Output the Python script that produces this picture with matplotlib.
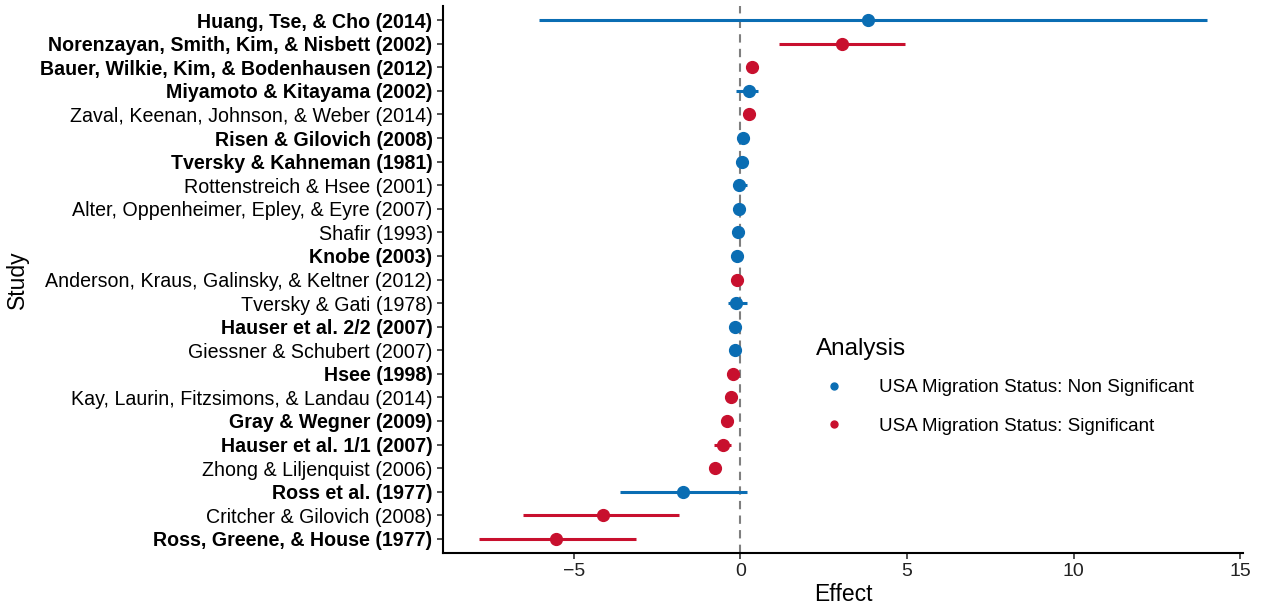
import matplotlib
matplotlib.use("Agg")
import matplotlib.pyplot as plt
from matplotlib.lines import Line2D
import numpy as np

plt.rcParams["font.family"] = ["Liberation Sans", "DejaVu Sans"]

# top to bottom
studies = [
    "Huang, Tse, & Cho (2014)",
    "Norenzayan, Smith, Kim, & Nisbett (2002)",
    "Bauer, Wilkie, Kim, & Bodenhausen (2012)",
    "Miyamoto & Kitayama (2002)",
    "Zaval, Keenan, Johnson, & Weber (2014)",
    "Risen & Gilovich (2008)",
    "Tversky & Kahneman (1981)",
    "Rottenstreich & Hsee (2001)",
    "Alter, Oppenheimer, Epley, & Eyre (2007)",
    "Shafir (1993)",
    "Knobe (2003)",
    "Anderson, Kraus, Galinsky, & Keltner (2012)",
    "Tversky & Gati (1978)",
    "Hauser et al. 2/2 (2007)",
    "Giessner & Schubert (2007)",
    "Hsee (1998)",
    "Kay, Laurin, Fitzsimons, & Landau (2014)",
    "Gray & Wegner (2009)",
    "Hauser et al. 1/1 (2007)",
    "Zhong & Liljenquist (2006)",
    "Ross et al. (1977)",
    "Critcher & Gilovich (2008)",
    "Ross, Greene, & House (1977)",
]
bold = [1, 1, 1, 1, 0, 1, 1, 0, 0, 0, 1, 0, 0, 1, 0, 1, 0, 1, 1, 0, 1, 0, 1]
effect = [3.84, 3.04, 0.36, 0.27, 0.25, 0.07, 0.05, -0.03, -0.03, -0.07, -0.09,
          -0.1, -0.13, -0.16, -0.16, -0.22, -0.29, -0.4, -0.53, -0.76,
          -1.73, -4.13, -5.54]
lower = [-6.04, 1.15, 0.36, -0.13, 0.25, 0.02, 0.02, -0.23, -0.08, -0.07, -0.09,
         -0.1, -0.36, -0.18, -0.16, -0.22, -0.29, -0.4, -0.78, -0.76,
         -3.6, -6.53, -7.83]
upper = [13.99, 4.93, 0.36, 0.52, 0.25, 0.14, 0.1, 0.2, 0.02, -0.07, -0.09,
         -0.1, 0.19, -0.14, -0.16, -0.22, -0.29, -0.4, -0.28, -0.76,
         0.21, -1.84, -3.14]
significant = [0, 1, 1, 0, 1, 0, 0, 0, 0, 0, 0, 1, 0, 0, 0, 1, 1, 1, 1, 1, 0, 1, 1]

blue = "#0a6db3"
red = "#c8102e"
colors = [red if s else blue for s in significant]

fig = plt.figure(figsize=(12.62, 6.11), dpi=100)
ax = fig.add_axes([443 / 1262, 1 - 553 / 611, 800 / 1262, 547 / 611])

n = len(studies)
y = np.arange(n)[::-1]
ax.axvline(0, color="#7f7f7f", ls=(0, (4, 3)), lw=1.5, zorder=1)
for yi, e, lo, hi, c in zip(y, effect, lower, upper, colors):
    ax.plot([lo, hi], [yi, yi], color=c, lw=2.2, solid_capstyle="butt", zorder=2)
    ax.plot(e, yi, "o", color=c, ms=8.5, mec=c, zorder=3)

ax.set_ylim(-0.6, n - 0.4)
ax.set_xlim(-8.92, 15.08)
ax.set_yticks(y)
ax.set_yticklabels(studies, fontsize=14.1)
for lab, b in zip(ax.get_yticklabels(), bold):
    lab.set_fontweight("bold" if b else "normal")
    lab.set_color("black")
ax.set_xticks([-5, 0, 5, 10, 15])
ax.set_xticklabels(["\u22125", "0", "5", "10", "15"], fontsize=14, color="#222222")
ax.set_xlabel("Effect", fontsize=16.5, labelpad=2)
ax.set_ylabel("Study", fontsize=16.5, labelpad=8)
for side in ("top", "right"):
    ax.spines[side].set_visible(False)
for side in ("left", "bottom"):
    ax.spines[side].set_linewidth(1.5)
ax.tick_params(axis="both", length=4, width=1.2, color="#333333")

handles = [
    Line2D([], [], marker="o", ls="", color=blue, ms=5),
    Line2D([], [], marker="o", ls="", color=red, ms=5),
]
leg = fig.legend(handles, ["USA Migration Status: Non Significant",
                           "USA Migration Status: Significant"],
                 title="Analysis", loc="upper left",
                 bbox_to_anchor=(808 / 1262, 1 - 330 / 611),
                 frameon=False, fontsize=13.5, title_fontsize=17.5,
                 labelspacing=1.15, handletextpad=1.4, borderaxespad=0)
leg._legend_box.align = "left"
leg._legend_box.sep = 14

fig.savefig("out.png", dpi=100)
